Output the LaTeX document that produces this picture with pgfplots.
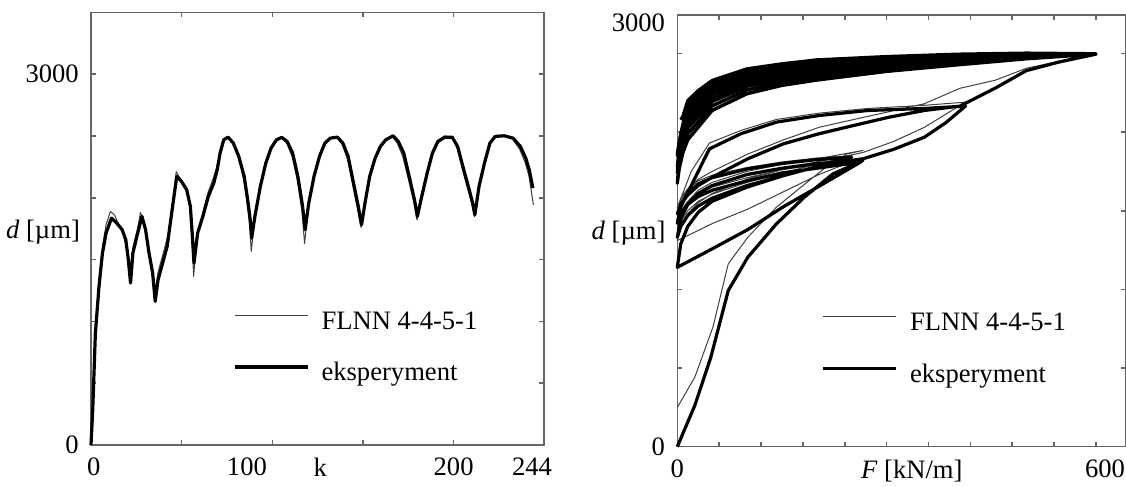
\documentclass[border=0pt]{standalone}
\usepackage{fontspec}
\setmainfont{Liberation Serif}
\usepackage{pgfplots}
\pgfplotsset{compat=1.18}

\pgfplotsset{
  panel/.style={
    scale only axis, clip=false,
    axis line style={black!60, line width=0.8pt},
    every tick/.style={black!60, line width=0.8pt},
    major tick length=2.5pt,
    tick align=inside,
    tick label style={font=\fontsize{13.3}{16}\selectfont},
    yticklabel style={xshift=-2.6pt},
    xticklabel style={yshift=-3pt},
    /pgf/number format/assume math mode=true,
    extra tick style={major tick length=0pt},
    legend style={draw=none, fill=none, font=\fontsize{13.3}{16}\selectfont,
      row sep=13.8pt, column sep=6pt,
      nodes={inner sep=0pt, text height=9pt, text depth=3pt}},
    legend cell align=left,
    legend image code/.code={\draw[##1] (0pt,4pt) -- (36.7pt,4pt);},
  },
  model/.style={black!75, line width=0.5pt, line join=round},
  meas/.style={black, line width=1.6pt, line join=round},
}

\begin{document}
\begin{tikzpicture}
\useasboundingbox (-45.5pt,-21pt) rectangle (517.5pt,222.5pt);

% ---- left: d over sample number k
\begin{axis}[panel, at={(0pt,0pt)}, anchor=south west,
  width=226.65pt, height=216.35pt,
  xmin=0, xmax=250, ymin=0, ymax=3500,
  xtick={0,50,...,250}, xticklabels={,,,,,},
  ytick={0,500,...,3500}, yticklabels={0,,,,,,3000,},
  extra x ticks={1.5,86,126.5,200,243.2},
  extra x tick labels={0,100,k,200,244},
  legend style={at={(0.299,0.319)}, anchor=north west}]
\addplot[model] coordinates {
(0,0) (1,350) (2.4,950) (4.4,1330) (6.3,1600) (8.3,1780) (10.7,1889) (13,1860)
(15,1790) (17.5,1720) (19.5,1600) (21.6,1340) (23,1590) (25.5,1740) (27.3,1881)
(29.5,1790) (31.5,1600) (33.5,1420) (35.2,1220) (37,1400) (40,1560) (42.5,1700)
(45,1960) (47,2210) (49.5,2150) (52.5,2070) (54.5,1930) (55.6,1700) (56.6,1364)
(58.5,1700) (61.5,1870) (64.5,2040) (67.5,2160) (69.6,2260) (71.5,2380) (73.5,2480)
(76,2490) (79,2430) (82,2300) (84.5,2120) (86.2,1950) (87.5,1780) (88.4,1566)
(90.2,1830) (93.2,2080) (96.2,2275) (99.2,2400) (102.2,2470) (105,2490) (108,2440)
(111,2330) (113.8,2140) (116.3,1900) (117.8,1628) (119.8,1930) (122.8,2160)
(125.8,2330) (128.8,2440) (132,2485) (135.6,2492) (138.6,2430) (141.5,2310)
(144.5,2090) (147.1,1900) (148.9,1760) (150.9,1950) (153.5,2165) (156.5,2318)
(159.5,2415) (162.5,2470) (166,2500) (169,2440) (172,2330) (175.2,2140) (178.1,1960)
(179.8,1820) (182.2,2000) (185.2,2195) (188.1,2365) (191.1,2460) (195,2500)
(199,2490) (202,2400) (204.8,2230) (207.8,2070) (210.2,1940) (211.5,1845)
(213.8,2080) (216.8,2275) (219.8,2445) (222.7,2500) (227.7,2505) (232.5,2475)
(236.3,2395) (239.3,2290) (241.5,2180) (244,1943)
};
\addlegendentry{FLNN 4-4-5-1}
\addplot[meas] coordinates {
(0,0) (1,300) (2.4,900) (4.4,1280) (6.3,1550) (8.3,1714) (11.3,1835) (14.2,1795)
(17.2,1741) (19.2,1660) (20.6,1498) (21.8,1310) (23.1,1552) (25.5,1700) (28.1,1849)
(30.1,1741) (32,1552) (34,1391) (35.4,1162) (37,1337) (40,1498) (42,1606) (45,1930)
(47.3,2172) (49.9,2132) (52.8,2064) (54.8,1930) (55.8,1714) (56.8,1471) (58.8,1714)
(61.7,1849) (64.7,2010) (67.7,2118) (69.6,2226) (71.2,2361) (73.2,2469) (75.6,2490)
(78.5,2442) (81.5,2334) (84.5,2172) (86.4,1984) (87.8,1822) (88.6,1674) (90.4,1849)
(93.4,2091) (96.4,2280) (99.3,2401) (102.3,2469) (105.2,2488) (108.2,2455)
(111.2,2361) (114.1,2172) (116.7,1930) (118.1,1741) (120.1,1957) (123,2172)
(126,2334) (129,2442) (132,2482) (135.9,2490) (138.9,2442) (141.8,2334) (144.8,2118)
(147.4,1930) (149.2,1781) (151.1,1957) (153.7,2172) (156.7,2320) (159.6,2415)
(162.6,2469) (166.6,2501) (169.5,2455) (172.5,2361) (175.5,2172) (178.4,1984)
(180,1849) (182.4,2010) (185.4,2199) (188.3,2361) (191.3,2455) (195.2,2490)
(199.2,2490) (202.2,2415) (205.1,2253) (208.1,2091) (210.5,1957) (211.7,1862)
(214,2091) (217,2280) (220,2442) (222.9,2496) (227.9,2501) (232.8,2482) (236.8,2415)
(239.8,2320) (241.7,2226) (243.7,2078)
};
\addlegendentry{eksperyment}
\node[font=\fontsize{13.3}{16}\selectfont] at ([xshift=-24pt]rel axis cs:0,0.492) {\textit{d} [µm]};
\end{axis}

% ---- right: d over load F
\begin{axis}[panel, at={(293.15pt,-0.85pt)}, anchor=south west,
  width=224.35pt, height=215.85pt,
  xmin=0, xmax=643, ymin=0, ymax=2744,
  xtick={0,60,...,600}, xticklabels={,,,,,,,,,,},
  ytick={0,500,...,2500}, yticklabels={0,,,,,},
  extra y ticks={2692}, extra y tick labels={3000},
  extra x ticks={0,336,613},
  extra x tick labels={0,{\textit{F} [kN/m]},600},
  legend style={at={(0.307,0.320)}, anchor=north west}]
\addplot[model] coordinates {
(0,250) (25,441) (51,759) (73,1162) (101,1331) (142,1522) (177,1649) (213,1777) (243,1861) (266,1883)
(200,1830) (150,1795) (100,1750) (50,1680) (30,1630) (15,1560) (5,1470) (0,1360)
(5,1430) (15,1500) (30,1560) (50,1605) (100,1680) (150,1740) (200,1795) (250,1850)
(200,1835) (150,1810) (100,1775) (50,1725) (30,1690) (15,1635) (5,1560) (0,1450)
(5,1500) (15,1560) (30,1610) (50,1650) (100,1710) (150,1760) (200,1795) (263,1835)
(203,1730) (152,1620) (101,1510) (51,1420) (0,1310)
(5,1400) (15,1480) (30,1550) (50,1610) (100,1700) (150,1760) (200,1810) (266,1870) (310,1940) (354,2030) (413,2190)
(354,2170) (273,2150) (203,2120) (142,2080) (91,2010) (46,1930) (20,1750) (0,1520)
(5,1580) (15,1640) (30,1700) (50,1750) (101,1860) (152,1950) (203,2030) (253,2080) (304,2130) (354,2180) (405,2278) (456,2330) (500,2405) (547,2450) (600,2500)
(500,2503) (400,2496) (300,2482) (200,2462) (100,2405) (50,2332) (15,2205) (5,1950) (0,1700)
(5,1830) (15,1962) (50,2147) (100,2251) (200,2336) (300,2390) (400,2429) (500,2467) (600,2495)
(500,2498) (400,2488) (300,2471) (200,2446) (100,2386) (50,2309) (15,2175) (5,1970) (0,1760)
(5,1880) (15,2000) (50,2175) (100,2275) (200,2356) (300,2404) (400,2440) (500,2472) (600,2496)
(500,2495) (400,2481) (300,2461) (200,2433) (100,2370) (50,2290) (15,2150) (5,1975) (0,1800)
(5,1920) (15,2037) (50,2204) (100,2299) (200,2375) (300,2418) (400,2450) (500,2478) (600,2497)
(500,2491) (400,2474) (300,2452) (200,2420) (100,2354) (50,2271) (15,2125) (5,1990) (0,1860)
(5,1970) (15,2075) (50,2233) (100,2323) (200,2395) (300,2433) (400,2461) (500,2484) (600,2498)
(500,2487) (400,2467) (300,2442) (200,2407) (100,2338) (50,2252) (15,2100) (5,1990) (0,1880)
(5,1990) (15,2100) (50,2252) (100,2338) (200,2407) (300,2442) (400,2467) (500,2487) (600,2500)
(500,2503) (400,2496) (300,2482) (200,2462) (100,2405) (50,2332) (15,2205) (8,2120)
};
\addlegendentry{FLNN 4-4-5-1}
\addplot[meas] coordinates {
(0,0) (25,261) (48,568) (73,992) (101,1204) (142,1416) (182,1586) (223,1734) (266,1819)
(200,1800) (150,1770) (100,1730) (50,1660) (30,1610) (15,1540) (5,1450) (0,1330)
(5,1400) (15,1470) (30,1530) (50,1580) (100,1660) (150,1720) (200,1780) (250,1840)
(200,1825) (150,1800) (100,1765) (50,1710) (30,1670) (15,1610) (5,1530) (0,1420)
(5,1480) (15,1540) (30,1590) (50,1630) (100,1690) (150,1740) (200,1770) (263,1810)
(203,1655) (152,1525) (101,1380) (51,1260) (0,1140)
(5,1290) (15,1400) (30,1490) (50,1560) (100,1650) (150,1720) (200,1780) (266,1830) (310,1890) (354,1967) (385,2060) (413,2165)
(354,2150) (273,2137) (203,2105) (142,2063) (91,1989) (46,1893) (0,1480)
(5,1540) (15,1600) (30,1660) (50,1713) (101,1830) (152,1925) (203,1989) (253,2042) (304,2095) (354,2137) (405,2165) (456,2280) (500,2390) (547,2445) (600,2495)
(500,2502) (400,2495) (300,2480) (200,2459) (150,2434) (100,2402) (50,2328) (30,2264) (15,2200) (8,2042) (3,1858) (0,1674)
(3,1771) (8,1867) (15,1950) (30,2030) (50,2137) (100,2243) (150,2296) (200,2330) (300,2385) (400,2426) (500,2465) (600,2495)
(500,2499) (400,2490) (300,2473) (200,2450) (150,2424) (100,2391) (50,2314) (30,2248) (15,2183) (8,2050) (3,1896) (0,1741)
(3,1827) (8,1914) (15,1988) (30,2065) (50,2166) (100,2267) (150,2317) (200,2349) (300,2399) (400,2436) (500,2471) (600,2496)
(500,2496) (400,2485) (300,2466) (200,2440) (150,2413) (100,2378) (50,2299) (30,2229) (15,2163) (8,2048) (3,1915) (0,1781)
(3,1866) (8,1952) (15,2025) (30,2100) (50,2194) (100,2291) (150,2337) (200,2369) (300,2414) (400,2447) (500,2476) (600,2497)
(500,2493) (400,2478) (300,2456) (200,2427) (150,2400) (100,2362) (50,2280) (30,2206) (15,2138) (8,2051) (3,1950) (0,1849)
(3,1921) (8,1993) (15,2055) (30,2128) (50,2217) (100,2310) (150,2354) (200,2384) (300,2425) (400,2455) (500,2481) (600,2497)
(500,2489) (400,2471) (300,2447) (200,2414) (150,2386) (100,2346) (50,2261) (30,2182) (15,2113) (8,2038) (3,1950) (0,1862)
(3,1941) (8,2020) (15,2088) (30,2159) (50,2242) (100,2330) (150,2372) (200,2401) (300,2437) (400,2464) (500,2485) (600,2498)
(500,2502) (400,2495) (300,2480) (200,2459) (150,2434) (100,2402) (50,2328) (30,2264) (15,2200) (8,2100) (5,2078)
};
\addlegendentry{eksperyment}
\node[font=\fontsize{13.3}{16}\selectfont] at ([xshift=-24.4pt]rel axis cs:0,0.494) {\textit{d} [µm]};
\end{axis}
\end{tikzpicture}
\end{document}
